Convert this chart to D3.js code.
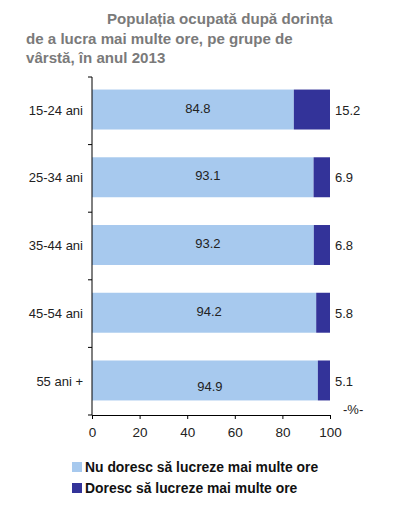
<!DOCTYPE html>
<html>
<head>
<meta charset="utf-8">
<script src="https://cdn.jsdelivr.net/npm/d3@7"></script>
<style>
  body { margin: 0; background: #fff; }
  svg { font-family: "Liberation Sans", Arial, sans-serif; }
</style>
</head>
<body>
<div id="chart"></div>
<script>
const categories = ["15-24 ani", "25-34 ani", "35-44 ani", "45-54 ani", "55 ani +"];
const nuDoresc = [84.8, 93.1, 93.2, 94.2, 94.9];
const doresc = [15.2, 6.9, 6.8, 5.8, 5.1];
const xTicks = [0, 20, 40, 60, 80, 100];
const seriesNames = ["Nu doresc să lucreze mai multe ore", "Doresc să lucreze mai multe ore"];
const titleLines = ["Populația ocupată după dorința", "de a lucra mai multe ore, pe grupe de", "vârstă, în anul 2013"];

const width = 393, height = 521;
const margin = { top: 77, right: 63, bottom: 106, left: 92 };
const colors = ["#a7c9ee", "#333399"];

const svg = d3.select("#chart").append("svg")
  .attr("width", width).attr("height", height)
  .attr("viewBox", [0, 0, width, height]);

// title
svg.append("g")
  .selectAll("text")
  .data(titleLines)
  .join("text")
  .attr("x", (d, i) => (i === 0 ? 107 : 26))
  .attr("y", (d, i) => 24 + i * 19.5)
  .attr("fill", "#7a7a7a")
  .attr("font-size", 15.1)
  .attr("font-weight", "bold")
  .text((d) => d);

const x = d3.scaleLinear().domain([0, 100])
  .range([margin.left, width - margin.right]);
const y = d3.scaleBand().domain(categories)
  .range([margin.top, height - margin.bottom])
  .paddingInner(0.41).paddingOuter(0.2);

const rows = categories.map((c, i) => ({ cat: c, a: nuDoresc[i], b: doresc[i] }));

// bars
svg.append("g").selectAll("rect")
  .data(rows).join("rect")
  .attr("x", x(0))
  .attr("y", (d) => y(d.cat) - 1)
  .attr("width", (d) => x(d.a) - x(0))
  .attr("height", y.bandwidth())
  .attr("fill", colors[0]);

svg.append("g").selectAll("rect")
  .data(rows).join("rect")
  .attr("x", (d) => x(d.a))
  .attr("y", (d) => y(d.cat) - 1)
  .attr("width", (d) => x(d.a + d.b) - x(d.a))
  .attr("height", y.bandwidth())
  .attr("fill", colors[1]);

// value labels
svg.append("g").selectAll("text")
  .data(rows).join("text")
  .attr("x", (d) => (x(0) + x(d.a)) / 2 + 5)
  .attr("y", (d, i) => y(d.cat) + y.bandwidth() / 2 - 2 + (i === 4 ? 7 : 0))
  .attr("dy", "0.32em")
  .attr("text-anchor", "middle")
  .attr("font-size", 13)
  .attr("fill", "#222")
  .text((d) => d.a.toFixed(1));

svg.append("g").selectAll("text")
  .data(rows).join("text")
  .attr("x", x(100) + 5)
  .attr("y", (d) => y(d.cat) + y.bandwidth() / 2)
  .attr("dy", "0.32em")
  .attr("font-size", 13)
  .attr("fill", "#222")
  .text((d) => d.b.toFixed(1));

// y axis
const gY = svg.append("g");
gY.append("line")
  .attr("x1", margin.left).attr("x2", margin.left)
  .attr("y1", margin.top).attr("y2", height - margin.bottom)
  .attr("stroke", "#000");
const plotH = height - margin.bottom - margin.top;
gY.selectAll(".tick")
  .data(d3.range(categories.length + 1))
  .join("line")
  .attr("x1", margin.left - 4).attr("x2", margin.left)
  .attr("y1", (i) => margin.top + (i * plotH) / categories.length)
  .attr("y2", (i) => margin.top + (i * plotH) / categories.length)
  .attr("stroke", "#000");
gY.selectAll("text")
  .data(categories).join("text")
  .attr("x", margin.left - 9)
  .attr("y", (d) => y(d) + y.bandwidth() / 2)
  .attr("dy", "0.32em")
  .attr("text-anchor", "end")
  .attr("font-size", 13)
  .attr("fill", "#222")
  .text((d) => d);

// x axis
svg.append("g")
  .attr("transform", `translate(0,${height - margin.bottom})`)
  .call(d3.axisBottom(x).tickValues(xTicks).tickSize(4).tickSizeOuter(0).tickPadding(8))
  .call((g) => g.selectAll(".domain, line").attr("stroke", "#000"))
  .call((g) => g.selectAll("text").attr("font-size", 13.5).attr("fill", "#222"))
  .attr("font-family", null);

svg.append("text")
  .attr("x", 343).attr("y", 414)
  .attr("font-size", 13).attr("fill", "#222")
  .text("-%-");

// legend
const legend = svg.append("g").selectAll("g")
  .data(seriesNames).join("g")
  .attr("transform", (d, i) => `translate(72,${462 + i * 21})`);
legend.append("rect")
  .attr("width", 10).attr("height", 10)
  .attr("fill", (d, i) => colors[i]);
legend.append("text")
  .attr("x", 13).attr("y", 5).attr("dy", "0.35em")
  .attr("font-size", 13.9).attr("font-weight", "bold").attr("fill", "#111")
  .text((d) => d);
</script>
</body>
</html>
